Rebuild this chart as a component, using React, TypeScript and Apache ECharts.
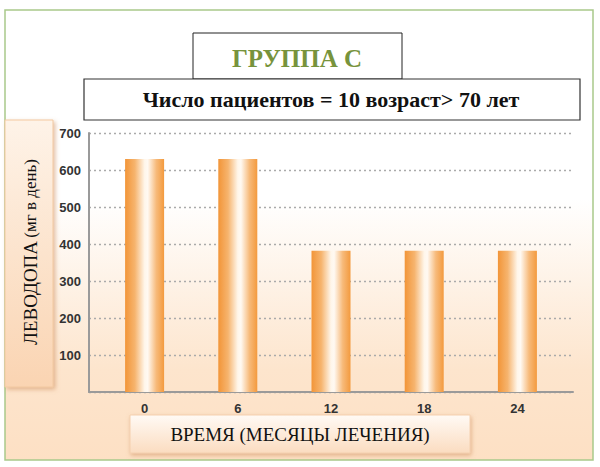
import React, { useEffect, useRef } from "react";
import * as echarts from "echarts";

const categories = ["0", "6", "12", "18", "24"];
const values = [630, 630, 382, 382, 382];
const titleText = "ГРУППА С";
const subtitleText = "Число пациентов = 10 возраст> 70 лет";
const yTitleMain = "ЛЕВОДОПА";
const yTitleSub = "(мг в день)";
const xTitle = "ВРЕМЯ (МЕСЯЦЫ ЛЕЧЕНИЯ)";

const serif = "Liberation Serif, serif";
const sans = "Liberation Sans, sans-serif";

export default function App() {
  const ref = useRef<HTMLDivElement>(null);
  useEffect(() => {
    if (!ref.current) return;
    const chart = echarts.init(ref.current, null, { renderer: "svg" });
    const barGradient = new echarts.graphic.LinearGradient(0, 0, 1, 0, [
      { offset: 0, color: "#f29538" },
      { offset: 0.25, color: "#f6b46e" },
      { offset: 0.5, color: "#fff6ea" },
      { offset: 0.58, color: "#fff9f2" },
      { offset: 0.8, color: "#f7ba7a" },
      { offset: 1, color: "#f39a3e" },
    ]);
    chart.setOption({
      animation: false,
      backgroundColor: "#ffffff",
      graphic: [
        {
          type: "rect",
          z: -10,
          silent: true,
          shape: { x: 5, y: 10, width: 588, height: 450 },
          style: {
            fill: new echarts.graphic.LinearGradient(0, 0, 0, 1, [
              { offset: 0, color: "#ffffff" },
              { offset: 0.42, color: "#ffffff" },
              { offset: 0.8, color: "#fde5cd" },
              { offset: 1, color: "#fde0c4" },
            ]),
            stroke: "#a9c98a",
            lineWidth: 1.5,
          },
        },
        {
          type: "rect",
          z: 10,
          shape: { x: 193, y: 33, width: 209, height: 46 },
          style: { fill: "#ffffff", stroke: "#222", lineWidth: 1 },
        },
        {
          type: "text",
          z: 11,
          x: 297,
          y: 58,
          style: {
            text: titleText,
            fontFamily: serif,
            fontWeight: "bold",
            fontSize: 25,
            fill: "#77933c",
            align: "center",
            verticalAlign: "middle",
          },
        },
        {
          type: "rect",
          z: 10,
          shape: { x: 84, y: 79, width: 496, height: 41 },
          style: { fill: "#ffffff", stroke: "#333", lineWidth: 1.2 },
        },
        {
          type: "text",
          z: 11,
          x: 331,
          y: 99,
          style: {
            text: subtitleText,
            fontFamily: serif,
            fontWeight: "bold",
            fontSize: 22,
            fill: "#111",
            align: "center",
            verticalAlign: "middle",
          },
        },
        {
          type: "rect",
          z: 10,
          shape: { x: 5, y: 120, width: 48, height: 267 },
          style: {
            fill: new echarts.graphic.LinearGradient(0, 0, 0, 1, [
              { offset: 0, color: "#fef3e8" },
              { offset: 1, color: "#fad4b2" },
            ]),
            stroke: "#f3c9a0",
            lineWidth: 1,
            shadowBlur: 4,
            shadowOffsetX: 2,
            shadowOffsetY: 2,
            shadowColor: "rgba(200,130,80,0.5)",
          },
        },
        {
          type: "text",
          z: 11,
          x: 30,
          y: 252,
          rotation: Math.PI / 2,
          style: {
            text: `{a|${yTitleMain}} {b|${yTitleSub}}`,
            align: "center",
            verticalAlign: "middle",
            rich: {
              a: { fontFamily: serif, fontSize: 19, fill: "#111" },
              b: { fontFamily: serif, fontSize: 17, fill: "#111" },
            },
          },
        },
        {
          type: "rect",
          z: 10,
          shape: { x: 130, y: 415, width: 340, height: 38 },
          style: {
            fill: new echarts.graphic.LinearGradient(0, 0, 0, 1, [
              { offset: 0, color: "#fffaf5" },
              { offset: 1, color: "#fbdcc0" },
            ]),
            stroke: "#f5d0ae",
            lineWidth: 1,
            shadowBlur: 4,
            shadowOffsetX: 1,
            shadowOffsetY: 2,
            shadowColor: "rgba(200,130,80,0.5)",
          },
        },
        {
          type: "text",
          z: 11,
          x: 300,
          y: 434,
          style: {
            text: xTitle,
            fontFamily: serif,
            fontSize: 19,
            fill: "#111",
            align: "center",
            verticalAlign: "middle",
          },
        },
      ],
      grid: [
        { left: 89, right: 27, top: 133, bottom: 75 },
        { left: 98, right: 36, top: 133, bottom: 75 },
      ],
      xAxis: [
        {
          gridIndex: 0,
          type: "value",
          min: 0,
          max: 1,
          axisLine: { show: true, lineStyle: { color: "#9a9a9a", width: 2 } },
          axisTick: { show: false },
          axisLabel: { show: false },
          splitLine: { show: false },
        },
        {
          gridIndex: 1,
          type: "category",
          data: categories,
          axisLine: { show: false },
          axisTick: { show: false },
          axisLabel: {
            margin: 10,
            fontFamily: sans,
            fontWeight: "bold",
            fontSize: 13,
            color: "#333",
          },
        },
      ],
      yAxis: [
        {
          gridIndex: 0,
          type: "value",
          min: 0,
          max: 700,
          interval: 100,
          axisLine: { show: true, lineStyle: { color: "#9a9a9a", width: 2 } },
          axisTick: { show: false },
          axisLabel: {
            margin: 8,
            fontFamily: sans,
            fontWeight: "bold",
            fontSize: 13,
            color: "#333",
            formatter: (v: number) => (v === 0 ? "" : String(v)),
          },
          splitLine: {
            show: true,
            lineStyle: { color: "#aaaaaa", type: [2, 3], width: 1.3 },
          },
        },
        {
          gridIndex: 1,
          type: "value",
          min: 0,
          max: 700,
          show: false,
          splitLine: { show: false },
        },
      ],
      series: [
        {
          type: "bar",
          xAxisIndex: 1,
          yAxisIndex: 1,
          data: values,
          barWidth: 39,
          itemStyle: { color: barGradient },
        },
      ],
    });
    return () => chart.dispose();
  }, []);
  return (
    <div
      ref={ref}
      style={{ position: "fixed", left: 0, top: 0, width: 600, height: 467 }}
    />
  );
}
